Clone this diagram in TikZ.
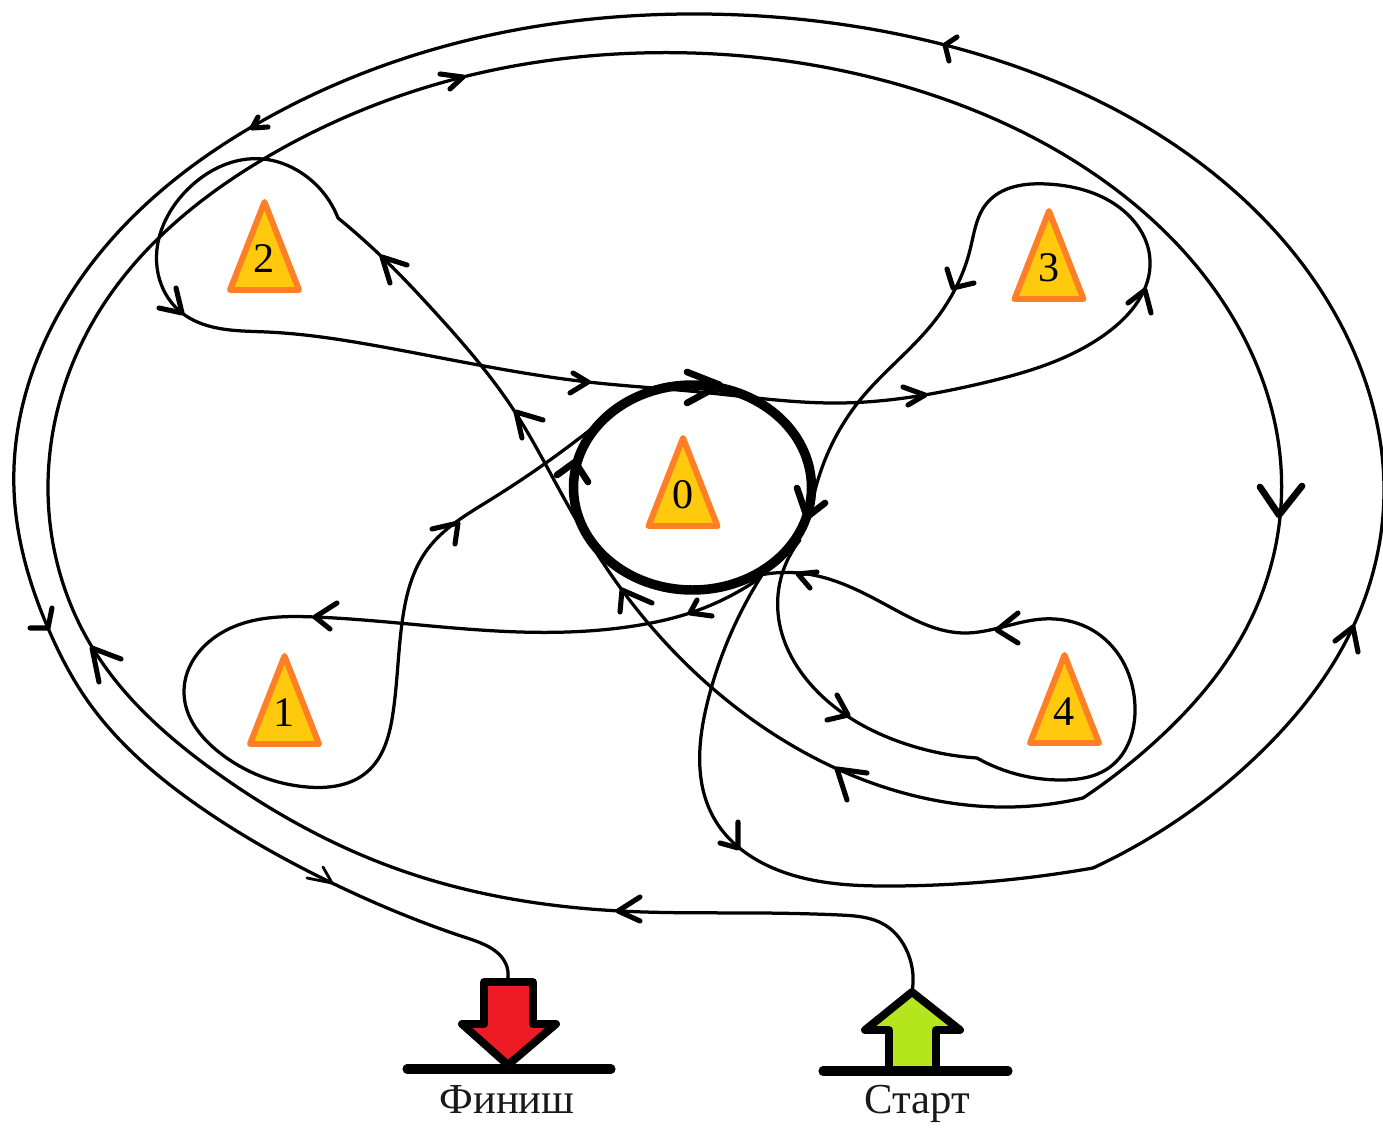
\documentclass[tikz,border=0pt]{standalone}
\usepackage{fontspec}
\usetikzlibrary{hobby}
\setmainfont{Liberation Serif}
\definecolor{trifill}{HTML}{FFC90E}
\definecolor{triline}{HTML}{FF7F27}
\definecolor{finred}{HTML}{ED1C24}
\definecolor{startgreen}{HTML}{B5E61D}
\tikzset{
  route/.style={black,line width=1.85pt,line cap=round,line join=round,use Hobby shortcut},
  barb/.style={black,line width=2.9pt,line cap=round,line join=round},
  thinbarb/.style={black,line width=1.6pt,line cap=round,line join=round},
  bigbarb/.style={black,line width=3.8pt,line cap=round,line join=round},
  tri/.style={draw=triline,fill=trifill,line width=3.4pt,line join=round},
  trilabel/.style={inner sep=0pt,font=\fontsize{24}{24}\selectfont,text=black},
  flag/.style={draw=black,line width=4.5pt,line join=round},
  groundbar/.style={black,line width=5.2pt,line cap=round},
  caption/.style={inner sep=0pt,font=\fontsize{24.3}{25}\selectfont,text=black!90}
}
\newcommand{\barbs}[4][barb]{\draw[#1] #3 -- #2 -- #4;}
\newcommand{\triangleat}[3]{%
  \draw[tri] (#1,#2) -- (#1-34.5,#2+88) -- (#1+34.5,#2+88) -- cycle;
  \node[trilabel] (t#3) at (#1,#2+57) {#3};}
\begin{document}
\begin{tikzpicture}[x=0.02cm,y=-0.02cm]
\useasboundingbox (0,0) rectangle (1383,1128);
\fill[white] (0,0) rectangle (1383,1128);
\coordinate (startTip) at (912,992);
\coordinate (finishTop) at (507,982);

% main long route from Start
\draw[route] (startTip) .. (905,947) .. (885,925) .. (840,915) .. (760,913) .. (620,911) .. (400,870) .. (217,773) .. (92,647) .. (48,490) .. (100,310) .. (267,157) .. (463,77) .. (640,53) .. (900,85) .. (1100,178) .. (1217,293) .. (1281,467) .. (1247,627) .. (1157,740) .. (1083,798);
\draw[route] (1083,798) .. (1010,807) .. (900,792) .. (750,718) .. (622,590) .. (565,500) .. (515,412) .. (433,310) .. (382,257) .. (338,218);
\draw[route] (338,218) .. (293,168) .. (263,159) .. (187,190) .. (157,267) .. (182,313) .. (217,328) .. (267,332) .. (383,347) .. (588,382) .. (700,392) .. (840,403) .. (983,383) .. (1107,333) .. (1150,260) .. (1113,203) .. (1047,184) .. (987,203) .. (970,250) .. (933,323) .. (860,400) .. (817,483) .. (810,515);

% loop through 4
\draw[route] (760,575) .. (813,575) .. (890,607) .. (963,633) .. (1043,619) .. (1097,633) .. (1135,707) .. (1110,767) .. (1063,780) .. (977,758);
\draw[route] (977,758) .. (900,742) .. (813,687) .. (778,613) .. (800,540);

% loop through 1
\draw[route] (590,430) .. (490,500) .. (427,550) .. (402,623) .. (393,713) .. (367,772) .. (307,787) .. (220,753) .. (184,693) .. (233,627) .. (315,617) .. (520,632) .. (640,625) .. (690,613) .. (757,580);

% outermost route to Finish
\draw[route] (762,575) .. (708,700) .. (715,820) .. (783,872) .. (893,886) .. (1093,868);
\draw[route] (1093,868) .. (1260,753) .. (1353,627) .. (1384,490) .. (1350,343) .. (1200,163) .. (945,45) .. (700,14) .. (500,33) .. (255,125) .. (100,253) .. (14,490) .. (48,628) .. (87,700) .. (200,807) .. (332,883) .. (467,938) .. (507,967) .. (finishTop);

% central thick loop
\draw[black,line width=5.4pt] (692.5,487.5) ellipse [x radius=119,y radius=102.5];

% triangles
\triangleat{683}{438}{0}
\triangleat{284.5}{656}{1}
\triangleat{264.5}{202}{2}
\triangleat{1049}{211}{3}
\triangleat{1064.5}{655}{4}

% arrowheads
\barbs{(945,45)}{(957,37)}{(949,61)}
\barbs[barb]{(463,77)}{(440,74)}{(450,89)}
\barbs{(252,128)}{(268,127)}{(258,117)}
\barbs[bigbarb]{(1279,515)}{(1260,487)}{(1302,486)}
\barbs{(1353,627)}{(1335,641)}{(1358,652)}
\barbs{(738,848)}{(738,822)}{(720,843)}
\barbs{(837,769)}{(867,773)}{(847,800)}
\barbs{(622,590)}{(652,603)}{(620,612)}
\barbs{(516,412)}{(543,420)}{(522,438)}
\barbs{(382,257)}{(407,265)}{(390,283)}
\barbs{(182,313)}{(176,288)}{(159,308)}
\barbs{(588,382)}{(573,373)}{(570,393)}
\barbs[bigbarb]{(720,385)}{(687,372)}{(687,403)}
\barbs{(925,395)}{(903,387)}{(908,405)}
\barbs{(1145,290)}{(1128,303)}{(1151,313)}
\barbs{(953,288)}{(947,269)}{(974,283)}
\barbs[bigbarb]{(807,517)}{(797,488)}{(825,503)}
\barbs[bigbarb]{(575,462)}{(557,475)}{(588,482)}
\barbs{(458,523)}{(432,529)}{(455,544)}
\barbs{(315,617)}{(337,603)}{(330,629)}
\barbs{(690,613)}{(712,616)}{(697,600)}
\barbs{(798,574)}{(817,572)}{(810,588)}
\barbs{(997,630)}{(1018,613)}{(1018,643)}
\barbs{(848,715)}{(837,695)}{(827,720)}
\barbs{(48,628)}{(52,608)}{(30,628)}
\barbs{(92,648)}{(121,659)}{(99,682)}
\barbs[thinbarb]{(332,883)}{(323,867)}{(307,878)}
\barbs{(618,911)}{(640,897)}{(640,921)}

% finish
\draw[flag,fill=finred] (finishTop) -- (533,982) -- (533,1024) -- (556,1024) -- (508,1065) -- (462,1024) -- (484,1024) -- (484,982) -- cycle;
\draw[groundbar] (407,1069) -- (611,1069);
\node[caption] (finish) at (507,1100) {Финиш};

% start
\draw[flag,fill=startgreen] (startTip) -- (960,1030) -- (936,1030) -- (936,1071) -- (889,1071) -- (889,1030) -- (865,1030) -- cycle;
\draw[groundbar] (823,1071) -- (1008,1071);
\node[caption] (start) at (917,1104) {Старт};
\end{tikzpicture}
\end{document}
